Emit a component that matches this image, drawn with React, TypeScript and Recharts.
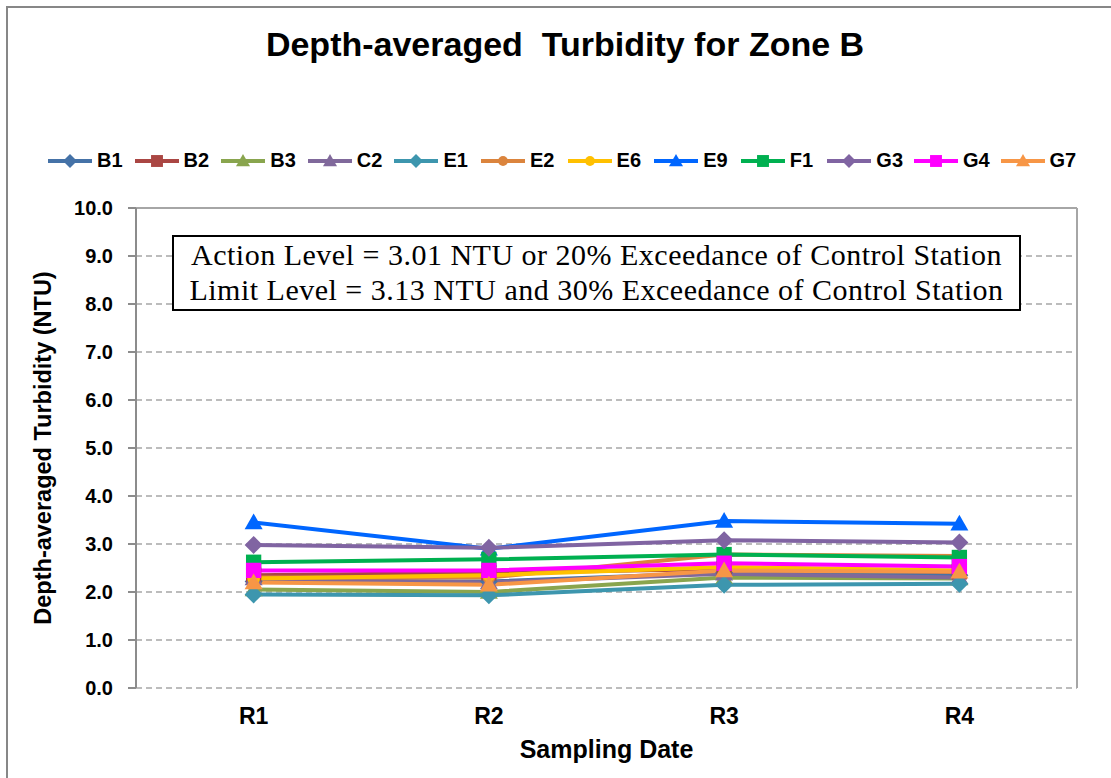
import { LineChart, Line, XAxis, YAxis, CartesianGrid, ReferenceLine } from 'recharts';

const CATEGORIES = ['R1', 'R2', 'R3', 'R4'];
const Y_TICKS = [0, 1, 2, 3, 4, 5, 6, 7, 8, 9, 10];

const B1 = [2.22, 2.22, 2.4, 2.35];
const B2 = [2.35, 2.4, 2.48, 2.42];
const B3 = [2.05, 2.0, 2.3, 2.28];
const C2 = [2.28, 2.2, 2.38, 2.3];
const E1 = [1.95, 1.93, 2.15, 2.17];
const E2 = [2.3, 2.3, 2.78, 2.75];
const E6 = [2.28, 2.35, 2.52, 2.45];
const E9 = [3.45, 2.9, 3.48, 3.42];
const F1 = [2.62, 2.68, 2.78, 2.72];
const G3 = [2.98, 2.92, 3.08, 3.03];
const G4 = [2.45, 2.45, 2.6, 2.53];
const G7 = [2.2, 2.15, 2.45, 2.42];

type Marker = 'diamond' | 'square' | 'triangle' | 'circle';

const SERIES: { name: string; values: number[]; color: string; marker: Marker }[] = [
  { name: 'B1', values: B1, color: '#4572A7', marker: 'diamond' },
  { name: 'B2', values: B2, color: '#AA4643', marker: 'square' },
  { name: 'B3', values: B3, color: '#89A54E', marker: 'triangle' },
  { name: 'C2', values: C2, color: '#80699B', marker: 'triangle' },
  { name: 'E1', values: E1, color: '#3D96AE', marker: 'diamond' },
  { name: 'E2', values: E2, color: '#DB843D', marker: 'circle' },
  { name: 'E6', values: E6, color: '#FFC000', marker: 'circle' },
  { name: 'E9', values: E9, color: '#0066FF', marker: 'triangle' },
  { name: 'F1', values: F1, color: '#00B050', marker: 'square' },
  { name: 'G3', values: G3, color: '#8064A2', marker: 'diamond' },
  { name: 'G4', values: G4, color: '#FF00FF', marker: 'square' },
  { name: 'G7', values: G7, color: '#F79646', marker: 'triangle' },
];

const data = CATEGORIES.map((label, i) => {
  const row: Record<string, number | string> = { label, idx: i + 1 };
  SERIES.forEach((s) => {
    row[s.name] = s.values[i];
  });
  return row;
});

const FONT = '"Liberation Sans", Arial, sans-serif';
const GRID = '#A6A6A6';

function markerShape(marker: Marker, cx: number, cy: number, r: number, color: string, key?: string) {
  if (marker === 'diamond') {
    return (
      <polygon
        key={key}
        points={`${cx},${cy - r} ${cx + r},${cy} ${cx},${cy + r} ${cx - r},${cy}`}
        fill={color}
      />
    );
  }
  if (marker === 'square') {
    const h = r * 0.85;
    return <rect key={key} x={cx - h} y={cy - h} width={h * 2} height={h * 2} fill={color} />;
  }
  if (marker === 'triangle') {
    return (
      <polygon
        key={key}
        points={`${cx},${cy - r} ${cx + r},${cy + r * 0.75} ${cx - r},${cy + r * 0.75}`}
        fill={color}
      />
    );
  }
  return <circle key={key} cx={cx} cy={cy} r={r * 0.7} fill={color} />;
}

function makeDot(marker: Marker, color: string) {
  return (props: any) => {
    const { cx, cy, index } = props;
    if (cx == null || cy == null) return <g key={index} />;
    return markerShape(marker, cx, cy, 9, color, `${marker}-${index}`);
  };
}

function ChartLegend() {
  return (
    <div
      style={{
        position: 'absolute',
        left: 47,
        top: 149,
        display: 'flex',
        fontFamily: FONT,
        fontWeight: 700,
        fontSize: 20,
        color: '#000',
      }}
    >
      {SERIES.map((s) => (
        <div key={s.name} style={{ display: 'flex', alignItems: 'center', width: 86.6 }}>
          <svg width={46} height={20} style={{ marginRight: 4 }}>
            <line x1={1} y1={10} x2={45} y2={10} stroke={s.color} strokeWidth={4} />
            {markerShape(s.marker, 23, 10, 7, s.color)}
          </svg>
          <span>{s.name}</span>
        </div>
      ))}
    </div>
  );
}

export default function App() {
  return (
    <div
      style={{
        position: 'fixed',
        left: 0,
        top: 0,
        width: 1111,
        height: 778,
        overflow: 'hidden',
        background: '#fff',
      }}
    >
      <div
        style={{
          position: 'absolute',
          left: 6,
          top: 6,
          width: 1130,
          height: 800,
          border: '2px solid #878787',
        }}
      />
      <div
        style={{
          position: 'absolute',
          left: 0,
          width: 1130,
          top: 25,
          textAlign: 'center',
          fontFamily: FONT,
          fontWeight: 700,
          fontSize: 34,
          whiteSpace: 'pre',
        }}
      >
        {'Depth-averaged  Turbidity for Zone B'}
      </div>
      <ChartLegend />
      <div style={{ position: 'absolute', left: 10, top: 10 }}>
        <LineChart
          width={1099}
          height={766}
          data={data}
          margin={{ top: 198, right: 32, bottom: 28, left: 26 }}
        >
          <CartesianGrid
            vertical={false}
            stroke={GRID}
            strokeDasharray="6 4"
            strokeWidth={1.5}
            yAxisId="left"
            xAxisId="main"
          />
          <XAxis
            xAxisId="bounds"
            type="number"
            dataKey="idx"
            domain={[0.5, 4.5]}
            ticks={[0.5, 1.5, 2.5, 3.5, 4.5]}
            tickFormatter={() => ''}
            height={0}
            tickSize={8}
            stroke="#8C8C8C"
            strokeWidth={2}
          />
          <XAxis
            xAxisId="main"
            type="number"
            dataKey="idx"
            domain={[0.5, 4.5]}
            ticks={[1, 2, 3, 4]}
            tickFormatter={(v: number) => CATEGORIES[v - 1]}
            tickLine={false}
            axisLine={false}
            height={60}
            tickMargin={14}
            tick={{ fill: '#000', fontSize: 23, fontWeight: 700, fontFamily: FONT }}
            label={{
              value: 'Sampling Date',
              position: 'insideBottom',
              offset: -10,
              fill: '#000',
              fontSize: 25,
              fontWeight: 700,
              fontFamily: FONT,
            }}
          />
          <YAxis
            yAxisId="left"
            type="number"
            domain={[0, 10]}
            ticks={Y_TICKS}
            tickFormatter={(v: number) => v.toFixed(1)}
            width={100}
            tickSize={8}
            tickMargin={15}
            stroke="#8C8C8C"
            strokeWidth={2}
            tick={{ fill: '#000', fontSize: 20, fontWeight: 700, fontFamily: FONT }}
            label={{
              value: 'Depth-averaged Turbidity (NTU)',
              angle: -90,
              position: 'insideLeft',
              offset: 7,
              style: { textAnchor: 'middle' },
              fill: '#000',
              fontSize: 23.5,
              fontWeight: 700,
              fontFamily: FONT,
            }}
          />
          <ReferenceLine xAxisId="main" yAxisId="left" y={10} stroke={GRID} strokeWidth={2} />
          <ReferenceLine xAxisId="main" yAxisId="left" x={4.5} stroke={GRID} strokeWidth={2} />
          {SERIES.map((s) => (
            <Line
              key={s.name}
              xAxisId="main"
              yAxisId="left"
              type="linear"
              dataKey={s.name}
              stroke={s.color}
              strokeWidth={4}
              dot={makeDot(s.marker, s.color)}
              activeDot={false}
              isAnimationActive={false}
            />
          ))}
        </LineChart>
      </div>
      <div
        style={{
          position: 'absolute',
          left: 172,
          top: 235,
          width: 845,
          height: 72,
          border: '2px solid #000',
          background: '#fff',
          fontFamily: '"Liberation Serif", "Times New Roman", serif',
          fontSize: 30,
          letterSpacing: 0.5,
          lineHeight: '35px',
          textAlign: 'center',
          color: '#000',
          whiteSpace: 'nowrap',
        }}
      >
        <div>Action Level = 3.01 NTU or 20% Exceedance of Control Station</div>
        <div>Limit Level = 3.13 NTU and 30% Exceedance of Control Station</div>
      </div>
    </div>
  );
}
